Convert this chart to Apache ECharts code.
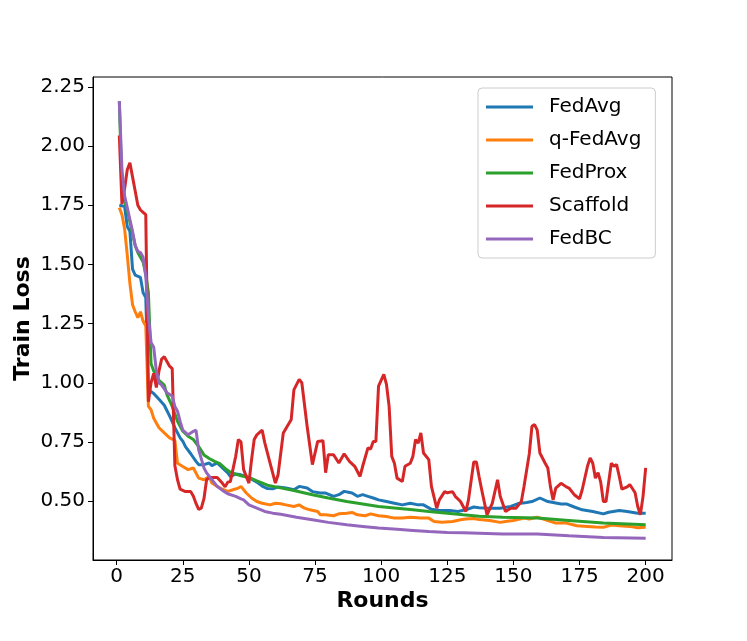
<!DOCTYPE html>
<html>
<head>
<meta charset="utf-8">
<script src="https://cdn.jsdelivr.net/npm/echarts@6/dist/echarts.min.js"></script>
<style>
html,body{margin:0;padding:0;background:#fff;}
#chart{width:747px;height:641px;}
</style>
</head>
<body>
<div id="chart"></div>
<script>
const seriesNames = ['FedAvg', 'q-FedAvg', 'FedProx', 'Scaffold', 'FedBC'];
const seriesColors = ['#1f77b4', '#ff7f0e', '#2ca02c', '#d62728', '#9467bd'];
const xTicks = [0, 25, 50, 75, 100, 125, 150, 175, 200];
const yTicks = [0.5, 0.75, 1.0, 1.25, 1.5, 1.75, 2.0, 2.25];

// [round, train loss]
const fedAvg = [[1,1.75],[3,1.745],[4,1.66],[5,1.64],[6,1.48],[7,1.455],[9,1.445],[10,1.38],[11,1.36],[12,0.97],[14,0.955],[16,0.93],[18,0.905],[20,0.86],[22,0.81],[24,0.767],[25,0.753],[26,0.73],[28,0.70],[30,0.668],[31,0.654],[33,0.654],[35,0.661],[36,0.65],[38,0.661],[40,0.64],[42,0.619],[43,0.603],[45,0.615],[47,0.611],[49,0.604],[51,0.592],[53,0.58],[55,0.563],[57,0.553],[59,0.552],[61,0.56],[64,0.555],[67,0.548],[69,0.562],[72,0.555],[74,0.54],[77,0.534],[79,0.534],[82,0.52],[84,0.527],[86,0.541],[89,0.534],[91,0.52],[93,0.527],[95,0.52],[97,0.513],[99,0.505],[102,0.498],[105,0.491],[108,0.484],[111,0.491],[114,0.484],[116,0.484],[119,0.465],[122,0.46],[126,0.46],[129,0.456],[132,0.463],[135,0.475],[137,0.472],[141,0.47],[145,0.47],[149,0.477],[152,0.49],[155,0.494],[157,0.498],[160,0.513],[163,0.498],[165,0.494],[168,0.488],[170,0.488],[173,0.475],[176,0.463],[180,0.456],[184,0.446],[186,0.453],[190,0.46],[193,0.456],[197,0.449],[200,0.449]];

const qFedAvg = [[1,1.74],[2,1.71],[3,1.65],[4,1.54],[5,1.42],[6,1.33],[7,1.30],[8,1.275],[9,1.30],[10,1.26],[11,1.24],[12,0.90],[13,0.886],[14,0.85],[16,0.81],[18,0.788],[20,0.767],[22,0.757],[23,0.66],[25,0.646],[27,0.633],[29,0.64],[31,0.597],[33,0.59],[35,0.604],[36,0.576],[38,0.562],[40,0.55],[42,0.541],[44,0.548],[46,0.555],[47,0.562],[49,0.534],[51,0.513],[53,0.498],[55,0.491],[58,0.484],[60,0.491],[62,0.489],[64,0.484],[67,0.477],[69,0.484],[71,0.47],[73,0.463],[76,0.456],[77,0.442],[79,0.442],[82,0.438],[84,0.446],[87,0.449],[89,0.452],[91,0.442],[94,0.438],[96,0.446],[99,0.438],[102,0.435],[105,0.428],[108,0.428],[111,0.432],[115,0.428],[118,0.428],[120,0.414],[123,0.411],[127,0.414],[130,0.421],[132,0.424],[135,0.426],[137,0.422],[141,0.418],[145,0.41],[147,0.414],[150,0.418],[154,0.428],[156,0.424],[159,0.432],[163,0.418],[166,0.407],[170,0.407],[174,0.396],[178,0.393],[181,0.39],[184,0.389],[187,0.399],[190,0.396],[194,0.393],[197,0.387],[200,0.389]];

const fedProx = [[1,2.19],[2,1.82],[3,1.77],[4,1.73],[5,1.68],[6,1.63],[7,1.58],[8,1.55],[9,1.53],[10,1.51],[11,1.46],[12,1.38],[13,1.08],[14,1.05],[16,1.01],[18,0.99],[19,0.95],[21,0.90],[23,0.837],[25,0.795],[27,0.774],[29,0.76],[31,0.73],[33,0.695],[35,0.68],[37,0.668],[39,0.658],[41,0.638],[43,0.622],[45,0.614],[47,0.607],[50,0.6],[53,0.585],[57,0.567],[61,0.558],[67,0.545],[74,0.527],[80,0.513],[87,0.498],[93,0.488],[99,0.477],[106,0.47],[112,0.463],[118,0.456],[125,0.449],[131,0.442],[137,0.436],[146,0.432],[159,0.428],[171,0.418],[184,0.407],[200,0.40]];

const scaffold = [[1,2.045],[2,1.755],[3,1.82],[4,1.90],[5,1.93],[6,1.87],[7,1.81],[8,1.75],[9,1.73],[10,1.72],[11,1.71],[12,0.92],[13,1.00],[14,1.04],[15,0.98],[16,1.05],[17,1.10],[18,1.11],[19,1.09],[20,1.07],[21,1.06],[22,0.65],[23,0.59],[24,0.55],[26,0.54],[28,0.54],[29,0.52],[30,0.49],[31,0.465],[32,0.47],[33,0.51],[34,0.59],[35,0.60],[37,0.60],[38,0.60],[40,0.575],[41,0.56],[42,0.58],[43,0.583],[45,0.689],[46,0.76],[47,0.75],[48,0.633],[50,0.576],[51,0.675],[52,0.76],[53,0.78],[55,0.80],[56,0.746],[58,0.66],[60,0.576],[61,0.61],[63,0.788],[66,0.845],[67,0.97],[69,1.014],[70,1.0],[72,0.816],[74,0.654],[76,0.752],[78,0.755],[79,0.62],[80,0.696],[82,0.696],[84,0.661],[86,0.70],[88,0.668],[90,0.647],[92,0.604],[93,0.647],[95,0.725],[96,0.72],[97,0.752],[98,0.752],[99,0.986],[101,1.035],[102,0.993],[103,0.90],[104,0.689],[105,0.66],[106,0.597],[108,0.583],[109,0.647],[111,0.66],[112,0.689],[113,0.76],[114,0.745],[115,0.788],[116,0.703],[118,0.675],[119,0.562],[121,0.47],[122,0.505],[124,0.54],[125,0.535],[127,0.54],[128,0.52],[130,0.498],[132,0.456],[133,0.505],[135,0.665],[136,0.665],[137,0.604],[138,0.548],[140,0.442],[142,0.49],[144,0.59],[145,0.52],[147,0.456],[149,0.47],[151,0.47],[153,0.498],[154,0.562],[156,0.70],[157,0.816],[158,0.823],[159,0.80],[160,0.703],[162,0.66],[163,0.64],[164,0.56],[165,0.505],[166,0.555],[168,0.575],[170,0.56],[171,0.555],[173,0.527],[175,0.51],[176,0.548],[178,0.647],[179,0.682],[180,0.66],[181,0.597],[182,0.62],[183,0.58],[184,0.498],[185,0.498],[187,0.66],[188,0.647],[189,0.654],[190,0.605],[191,0.55],[193,0.56],[194,0.57],[196,0.535],[197,0.477],[198,0.442],[199,0.52],[200,0.64]];

const fedBC = [[1,2.19],[2,1.90],[3,1.79],[4,1.74],[5,1.69],[6,1.64],[7,1.58],[8,1.555],[9,1.55],[10,1.53],[11,1.45],[12,1.28],[13,1.17],[14,1.15],[15,1.05],[16,1.0],[17,0.99],[19,0.958],[21,0.944],[22,0.90],[23,0.88],[24,0.837],[25,0.80],[27,0.78],[29,0.795],[30,0.80],[31,0.717],[33,0.64],[34,0.619],[36,0.59],[38,0.562],[40,0.545],[42,0.531],[45,0.52],[47,0.509],[48,0.505],[50,0.484],[53,0.47],[56,0.456],[59,0.449],[62,0.444],[68,0.432],[74,0.421],[80,0.41],[87,0.40],[93,0.393],[99,0.386],[106,0.381],[112,0.376],[118,0.371],[125,0.367],[131,0.366],[137,0.364],[146,0.361],[159,0.361],[171,0.353],[184,0.346],[200,0.343]];

const seriesData = [fedAvg, qFedAvg, fedProx, scaffold, fedBC];

const FONT = 'DejaVu Sans';
const chart = echarts.init(document.getElementById('chart'), null, {renderer: 'canvas'});

chart.setOption({
  animation: false,
  backgroundColor: '#ffffff',
  grid: {
    left: 93, right: 75, top: 77, bottom: 81,
    show: true, borderColor: '#000', borderWidth: 1, backgroundColor: 'transparent'
  },
  legend: {
    orient: 'vertical',
    left: 478, top: 88,
    padding: [9, 14, 9, 8],
    icon: 'rect',
    itemWidth: 47, itemHeight: 3, itemGap: 13,
    borderColor: '#cccccc', borderWidth: 1, borderRadius: 4,
    backgroundColor: 'rgba(255,255,255,0.8)',
    data: seriesNames,
    textStyle: {fontFamily: FONT, fontSize: 20, color: '#000', padding: [0, 0, 0, 11], lineHeight: 20, height: 20}
  },
  xAxis: {
    type: 'value',
    min: -8.95, max: 209.95,
    name: 'Rounds', nameLocation: 'middle', nameGap: 30, nameMoveOverlap: false,
    nameTextStyle: {fontFamily: FONT, fontSize: 22, fontWeight: 'bold', color: '#000'},
    axisLine: {show: true, onZero: false, lineStyle: {color: '#000', width: 1}},
    axisTick: {show: true, length: 5, inside: false, lineStyle: {color: '#000'}, customValues: xTicks},
    axisLabel: {
      fontFamily: FONT, fontSize: 20, color: '#000', margin: 7,
      customValues: xTicks,
      formatter: v => String(Math.round(v))
    },
    splitLine: {show: false}
  },
  yAxis: {
    type: 'value',
    min: 0.251, max: 2.292,
    name: 'Train Loss', nameLocation: 'middle', nameGap: 59, nameMoveOverlap: false,
    nameTextStyle: {fontFamily: FONT, fontSize: 22, fontWeight: 'bold', color: '#000'},
    axisLine: {show: true, onZero: false, lineStyle: {color: '#000', width: 1}},
    axisTick: {show: true, length: 5, inside: false, lineStyle: {color: '#000'}, customValues: yTicks},
    axisLabel: {
      fontFamily: FONT, fontSize: 20, color: '#000', margin: 8,
      customValues: yTicks,
      formatter: v => v.toFixed(2)
    },
    splitLine: {show: false}
  },
  series: seriesData.map((d, i) => ({
    name: seriesNames[i],
    type: 'line',
    data: d,
    symbol: 'none',
    smooth: false,
    color: seriesColors[i],
    lineStyle: {color: seriesColors[i], width: 3},
    clip: true
  }))
});
</script>
</body>
</html>
